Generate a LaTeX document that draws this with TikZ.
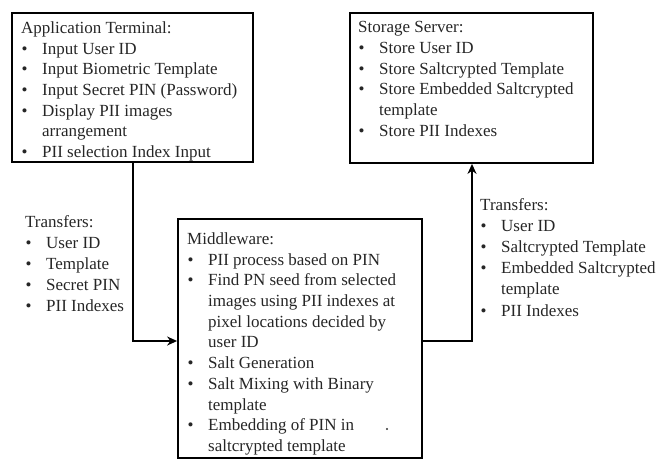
\documentclass[tikz,border=0pt]{standalone}
\usepackage{fontspec}
\setmainfont{Liberation Serif}
\usetikzlibrary{arrows.meta}
\newcommand{\bu}{\makebox[21pt][l]{\hspace{0.5pt}\textbullet}}
\newcommand{\ind}{\hspace*{21pt}}
\begin{document}
\begin{tikzpicture}[x=1pt,y=-1pt,
  box/.style={draw=black, line width=1.8pt, rectangle, inner sep=0pt},
  txt/.style={anchor=north west, inner sep=0pt, align=left, text=black!85,
    font=\fontsize{17}{20.7}\selectfont},
  txtb/.style={txt, font=\fontsize{17}{21.1}\selectfont},
  arr/.style={draw=black, line width=1.8pt, -{Stealth[length=10pt,width=9pt]}}]
\useasboundingbox (0,0) rectangle (660,460);
% boxes
\node[box, minimum width=241pt, minimum height=149pt] (app) at (132.5,87.5) {};
\node[box, minimum width=243pt, minimum height=150pt] (stor) at (471.5,88) {};
\node[box, minimum width=244pt, minimum height=239pt] (mid) at (300,338.5) {};
% texts
\node[txt] (appt) at (21,21.4) {Application Terminal:\\
\bu Input User ID\\
\bu Input Biometric Template\\
\bu Input Secret PIN (Password)\\
\bu Display PII images\\
\ind arrangement\\
\bu PII selection Index Input};
\node[txt] (stort) at (358,21.4) {Storage Server:\\
\bu Store User ID\\
\bu Store Saltcrypted Template\\
\bu Store Embedded Saltcrypted\\
\ind template\\
\bu Store PII Indexes};
\node[txt] (midt) at (187,232.4) {Middleware:\\
\bu PII process based on PIN\\
\bu Find PN seed from selected\\
\ind images using PII indexes at\\
\ind pixel locations decided by\\
\ind user ID\\
\bu Salt Generation\\
\bu Salt Mixing with Binary\\
\ind template\\
\bu Embedding of PIN in\\
\ind saltcrypted template};
\node[txtb] (tl) at (25,215.4) {Transfers:\\
\bu User ID\\
\bu Template\\
\bu Secret PIN\\
\bu PII Indexes};
\node[txtb] (tr) at (480,198.4) {Transfers:\\
\bu User ID\\
\bu Saltcrypted Template\\
\bu Embedded Saltcrypted\\
\ind template\\
\bu PII Indexes};
% connectors
\coordinate (c1) at (133,341);
\coordinate (c2) at (472,341);
\draw[arr] (app.south -| c1) |- (mid.west |- c1);
\draw[arr] (mid.east |- c2) -| (stor.south -| c2);
% stray dot
\fill[black!80] (387,429) circle (1.2pt);
\end{tikzpicture}
\end{document}
